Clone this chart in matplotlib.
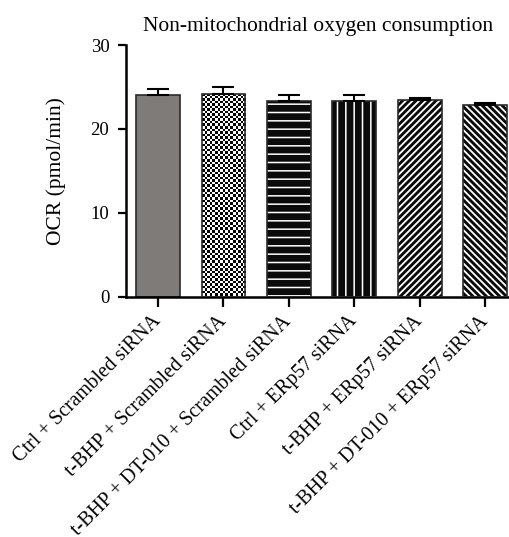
import numpy as np
import matplotlib
matplotlib.use("Agg")
import matplotlib.pyplot as plt

plt.rcParams['font.family'] = ['Liberation Serif', 'DejaVu Serif']

groups = ['Ctrl + Scrambled siRNA', 't-BHP + Scrambled siRNA',
          't-BHP + DT-010 + Scrambled siRNA', 'Ctrl + ERp57 siRNA',
          't-BHP + ERp57 siRNA', 't-BHP + DT-010 + ERp57 siRNA']
ocr = [24.0, 24.2, 23.3, 23.3, 23.45, 22.9]
sem = [0.7, 0.8, 0.7, 0.7, 0.25, 0.15]
hatches = [None, 'checker', '--', '||', '/////', '\\\\\\\\\\']
hatch_lw = [1.0, 1.0, 1.1, 1.1, 1.3, 1.3]

fig = plt.figure(figsize=(5.10, 5.37), dpi=100)
ax = fig.add_axes([126/510, 1-296.5/537, (510-126)/510, (296.5-45)/537])

x = np.arange(len(groups))
w = 0.67
for i in x:
    h = hatches[i]
    if h is None:
        ax.bar(i, ocr[i], w, color='#7f7b78', edgecolor='#2a2a2a', linewidth=1.2, zorder=2)
    elif h == 'checker':
        b = ax.bar(i, ocr[i], w, color='none', edgecolor='#2a2a2a', linewidth=1.2, zorder=3)
        r = b[0]
        # fine checkerboard texture, clipped to the bar
        cb = (np.indices((80, 17)).sum(axis=0) % 2).astype(float)
        im = ax.imshow(cb, cmap='gray', interpolation='nearest', aspect='auto',
                       extent=(r.get_x(), r.get_x() + r.get_width(), 0, r.get_height()),
                       zorder=2)
        im.set_clip_path(r)
    else:
        with plt.rc_context({'hatch.linewidth': hatch_lw[i]}):
            ax.bar(i, ocr[i], w, color='#0a0a0a', edgecolor='white', linewidth=0, hatch=h, zorder=2)
        ax.bar(i, ocr[i], w, fill=False, edgecolor='#2a2a2a', linewidth=1.2, zorder=3)

ax.errorbar(x, ocr, yerr=[np.zeros(len(sem)), sem], fmt='none', ecolor='black',
            elinewidth=1.5, capsize=7.8, capthick=1.5, zorder=4)

ax.set_xlim(-0.49, 5.38)
ax.set_ylim(0, 30)
ax.set_yticks([0, 10, 20, 30])
ax.set_xticks(x)
ax.set_xticklabels(groups, rotation=45, ha='right', va='center', rotation_mode='anchor', fontsize=14.5)
ax.tick_params(axis='y', labelsize=13.5, width=1.6, length=6, pad=6)
ax.tick_params(axis='x', width=1.6, length=7, pad=9)
ax.set_ylabel('OCR (pmol/min)', fontsize=15.5, labelpad=18)
ax.set_title('Non-mitochondrial oxygen consumption', fontsize=15.5, x=0.5, pad=10)
for s in ['top', 'right']:
    ax.spines[s].set_visible(False)
for s in ['left', 'bottom']:
    ax.spines[s].set_linewidth(1.8)

fig.savefig('out.png', dpi=100)
